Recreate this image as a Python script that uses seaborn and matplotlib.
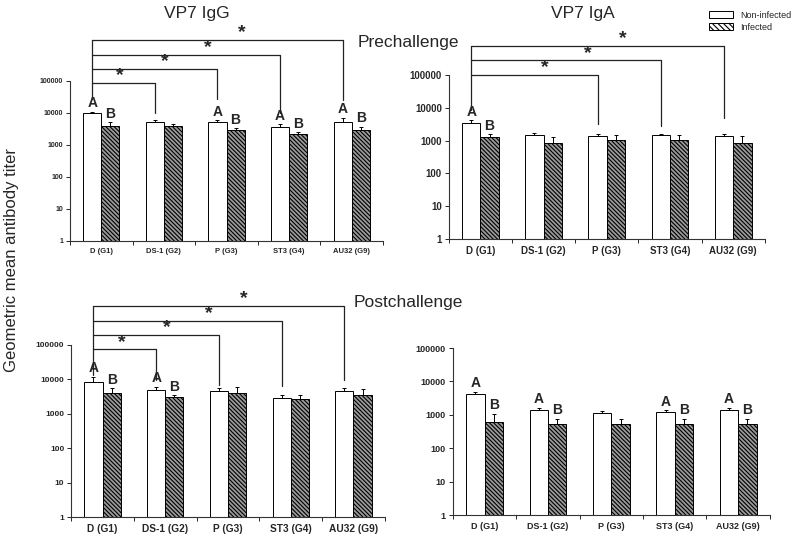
import numpy as np
import pandas as pd
import matplotlib
matplotlib.use("Agg")
import matplotlib.pyplot as plt
import matplotlib.transforms as mtransforms
from matplotlib.patches import Patch
from matplotlib.ticker import FixedLocator, NullLocator
import seaborn as sns

# ---------------- data ----------------
categories = ["D (G1)", "DS-1 (G2)", "P (G3)", "ST3 (G4)", "AU32 (G9)"]
groups = ["Non-infected", "Infected"]

igg_pre_non = [10000, 5100, 5100, 3700, 5100]
igg_pre_non_top = [11000, 6000, 6000, 4400, 7100]
igg_pre_inf = [3900, 3900, 2900, 2200, 2900]
igg_pre_inf_top = [5200, 4500, 3400, 2500, 3700]

iga_pre_non = [3400, 1480, 1380, 1480, 1380]
iga_pre_non_top = [4200, 1650, 1550, 1600, 1550]
iga_pre_inf = [1250, 870, 1050, 1050, 870]
iga_pre_inf_top = [1600, 1250, 1480, 1480, 1380]

igg_post_non = [8300, 4900, 4600, 2900, 4600]
igg_post_non_top = [12000, 6100, 5500, 3600, 5500]
igg_post_inf = [3900, 3000, 3900, 2700, 3500]
igg_post_inf_top = [5500, 3500, 5900, 3600, 5200]

iga_post_non = [4300, 1400, 1120, 1200, 1400]
iga_post_non_top = [5000, 1650, 1300, 1400, 1650]
iga_post_inf = [600, 525, 525, 525, 525]
iga_post_inf_top = [1070, 760, 760, 760, 760]

# letters A/B shown above group?
igg_pre_letters = [True, False, True, True, True]
iga_pre_letters = [True, False, False, False, False]
igg_post_letters = [True, True, False, False, False]
iga_post_letters = [True, True, False, True, True]

# significance brackets from D (G1) to target groups
igg_pre_targets = [1, 2, 3, 4]
iga_pre_targets = [2, 3, 4]
igg_post_targets = [1, 2, 3, 4]
iga_post_targets = []

ytick_vals = [1, 10, 100, 1000, 10000, 100000]
ytick_labels = ["1", "10", "100", "1000", "10000", "100000"]

# ---------------- style ----------------
sns.set_style("ticks")
plt.rcParams["font.family"] = ["Liberation Sans", "DejaVu Sans"]
plt.rcParams["hatch.linewidth"] = 0.8
plt.rcParams["hatch.color"] = "#222222"

fig = plt.figure(figsize=(8.0, 5.42), dpi=100)

HATCH = "\\" * 8
HATCH_FACE = "#9a9a9a"
WIDTH = 0.58


def draw_panel(rect, non, non_top, inf, inf_top, letters, targets,
               levels, bottoms, left_bottom, star_x, fs_y, fs_x):
    ax = fig.add_axes(rect)
    df = pd.DataFrame({
        "cat": categories * 2,
        "grp": [groups[0]] * 5 + [groups[1]] * 5,
        "val": list(non) + list(inf),
    })
    sns.barplot(data=df, x="cat", y="val", hue="grp", order=categories,
                hue_order=groups, palette=["white", HATCH_FACE],
                edgecolor="black", linewidth=0.7, width=WIDTH,
                errorbar=None, legend=False, ax=ax)
    ax.set_yscale("log")
    ax.set_ylim(1, 100000)
    ax.set_xlim(-0.5, 4.5)

    cont_non, cont_inf = ax.containers[0], ax.containers[1]
    for p in cont_non:
        p.set_facecolor("white")
    for p in cont_inf:
        p.set_hatch(HATCH)
        p.set_facecolor(HATCH_FACE)

    xs_non = [p.get_x() + p.get_width() / 2 for p in cont_non]
    xs_inf = [p.get_x() + p.get_width() / 2 for p in cont_inf]
    for xs, v, t in ((xs_non, non, non_top), (xs_inf, inf, inf_top)):
        v = np.array(v, float)
        t = np.array(t, float)
        ax.errorbar(xs, v, yerr=[np.zeros_like(v), t - v], fmt="none",
                    ecolor="black", elinewidth=0.7, capsize=1.6,
                    capthick=0.7, zorder=3)

    for i, show in enumerate(letters):
        if show:
            ax.annotate("A", (xs_non[i], non_top[i]), xytext=(0, 1),
                        textcoords="offset points", ha="center", va="bottom",
                        fontsize=10, fontweight="bold")
            ax.annotate("B", (xs_inf[i], inf_top[i]), xytext=(0, 1),
                        textcoords="offset points", ha="center", va="bottom",
                        fontsize=10, fontweight="bold")

    trans = mtransforms.blended_transform_factory(ax.transData, ax.transAxes)
    if targets:
        x0 = xs_non[0]
        ax.plot([x0, x0], [left_bottom, max(levels)], color="#222222",
                lw=0.9, transform=trans, clip_on=False)
        for k, tgt in enumerate(targets):
            x1 = xs_non[tgt]
            ax.plot([x0, x1, x1], [levels[k], levels[k], bottoms[k]],
                    color="#222222", lw=0.9, transform=trans, clip_on=False)
            ax.annotate("*", (star_x[tgt - 1], levels[k]), xycoords=trans,
                        xytext=(0, -1), textcoords="offset points",
                        ha="center", va="bottom", fontsize=14,
                        fontweight="bold", annotation_clip=False)

    ax.yaxis.set_major_locator(FixedLocator(ytick_vals))
    ax.yaxis.set_minor_locator(NullLocator())
    ax.set_yticklabels(ytick_labels, fontsize=fs_y, fontweight="bold")
    ax.set_xticks(range(5))
    ax.set_xticklabels(categories, fontsize=fs_x, fontweight="bold")
    ax.set_xticks(np.arange(-0.5, 5.0, 1.0), minor=True)
    ax.tick_params(axis="x", which="major", length=0, pad=5)
    ax.tick_params(axis="x", which="minor", length=3, width=0.7)
    ax.tick_params(axis="y", which="major", length=3, width=0.7, pad=2)
    ax.set_xlabel("")
    ax.set_ylabel("")
    sns.despine(ax=ax)
    for s in ("left", "bottom"):
        ax.spines[s].set_linewidth(0.8)
        ax.spines[s].set_color("#333333")
    return ax


star_x = [0.3, 1.02, 1.7, 2.25]

draw_panel([0.0875, 0.5554, 0.3913, 0.2952], igg_pre_non, igg_pre_non_top,
           igg_pre_inf, igg_pre_inf_top, igg_pre_letters, igg_pre_targets,
           [0.9875, 1.075, 1.1625, 1.256], [0.80, 0.89, 0.80, 0.88], 0.885,
           star_x, 5, 5.5)
draw_panel([0.561, 0.559, 0.395, 0.3026], iga_pre_non, iga_pre_non_top,
           iga_pre_inf, iga_pre_inf_top, iga_pre_letters, iga_pre_targets,
           [1.0, 1.09, 1.177], [0.70, 0.69, 0.738], 0.787,
           star_x, 6.9, 7)
draw_panel([0.089, 0.0461, 0.392, 0.3174], igg_post_non, igg_post_non_top,
           igg_post_inf, igg_post_inf_top, igg_post_letters, igg_post_targets,
           [0.975, 1.058, 1.142, 1.227], [0.796, 0.767, 0.761, 0.796], 0.825,
           star_x, 6, 7.3)
draw_panel([0.566, 0.0498, 0.3963, 0.308], iga_post_non, iga_post_non_top,
           iga_post_inf, iga_post_inf_top, iga_post_letters, iga_post_targets,
           [], [], 0, star_x, 6.5, 6.5)

fig.text(0.246, 0.976, "VP7 IgG", ha="center", va="center", fontsize=12.5)
fig.text(0.729, 0.976, "VP7 IgA", ha="center", va="center", fontsize=12.5)
fig.text(0.51, 0.9225, "Prechallenge", ha="center", va="center", fontsize=12.5)
fig.text(0.51, 0.441, "Postchallenge", ha="center", va="center", fontsize=12.5)
fig.text(0.015, 0.52, "Geometric mean antibody titer", ha="center",
         va="center", rotation=90, fontsize=12)

handles = [Patch(facecolor="white", edgecolor="black", linewidth=0.7),
           Patch(facecolor="white", edgecolor="black", hatch="\\" * 6,
                 linewidth=0.7)]
fig.legend(handles, groups, loc="upper left", bbox_to_anchor=(0.882, 0.987),
           frameon=False, fontsize=6.5, handlelength=2.6, handleheight=0.7,
           labelspacing=0.35, handletextpad=0.8, borderaxespad=0)

fig.savefig("out.png", dpi=100)
